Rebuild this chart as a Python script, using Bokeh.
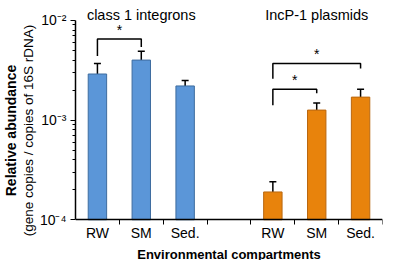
from bokeh.plotting import figure
from bokeh.models import (ColumnDataSource, Whisker, TeeHead, FixedTicker, Label, Title)
from bokeh.embed import file_html
from bokeh.resources import INLINE
from bokeh.core.properties import value

# ---- data ----
groups = ["class 1 integrons", "IncP-1 plasmids"]
compartments = ["RW", "SM", "Sed."]
integron_mean = [2.9e-3, 4.0e-3, 2.2e-3]
integron_upper = [3.7e-3, 4.9e-3, 2.5e-3]
integron_lower = [2.05e-3, 3.1e-3, 1.9e-3]
plasmid_mean = [1.9e-4, 1.26e-3, 1.7e-3]
plasmid_upper = [2.4e-4, 1.48e-3, 2.04e-3]
plasmid_lower = [1.35e-4, 0.98e-3, 1.41e-3]
y_ticks = [1e-4, 1e-3, 1e-2]
y_tick_labels = ["10⁻⁴", "10⁻³", "10⁻²"]
y_minor = [m * 1e-4 for m in range(2, 10)] + [m * 1e-3 for m in range(2, 10)]
Y_MIN, Y_MAX = 1e-4, 1e-2

# slot positions: 3 bars, one empty slot, 3 bars
int_x = [0.5, 1.5, 2.5]
pla_x = [4.5, 5.5, 6.5]

FONT = "Liberation Sans"

p = figure(width=384, height=260, output_backend="svg", toolbar_location=None,
           x_range=(0, 7), y_range=(3.9e-5, 1.585e-2), y_axis_type="log",
           min_border_left=72, min_border_right=2, min_border_top=0, min_border_bottom=0)
p.outline_line_color = None
p.xgrid.visible = False
p.ygrid.visible = False
p.background_fill_color = "white"

src_i = ColumnDataSource(dict(x=int_x, top=integron_mean, up=integron_upper, lo=integron_lower))
src_p = ColumnDataSource(dict(x=pla_x, top=plasmid_mean, up=plasmid_upper, lo=plasmid_lower))

p.vbar(x="x", top="top", bottom=Y_MIN, width=0.42, source=src_i,
       fill_color="#5B96D8", line_color="#3E6C9F", line_width=1)
p.vbar(x="x", top="top", bottom=Y_MIN, width=0.42, source=src_p,
       fill_color="#E8830C", line_color="#B96710", line_width=1)

for src in (src_i, src_p):
    w = Whisker(base="x", upper="up", lower="lo", source=src, line_color="black", line_width=1.5,
                upper_head=TeeHead(size=7, line_color="black", line_width=1.5),
                lower_head=TeeHead(size=7, line_color="black", line_width=1.5))
    p.add_layout(w)

# significance brackets
br_xs = [[0.5, 0.5, 1.5, 1.5], [4.5, 4.5, 6.5, 6.5], [4.5, 4.5, 5.5, 5.5]]
br_ys = [[4.4e-3, 6.5e-3, 6.5e-3, 5.4e-3],
         [2.6e-3, 3.7e-3, 3.7e-3, 3.3e-3],
         [1.41e-3, 2.04e-3, 2.04e-3, 1.86e-3]]
p.multi_line(xs=br_xs, ys=br_ys, line_color="black", line_width=1.5)
star_x = [1.0, 5.5, 5.0]
star_y = [6.6e-3, 3.8e-3, 2.1e-3]
p.text(x=star_x, y=star_y, text=["*", "*", "*"], text_align="center", text_baseline="bottom",
       text_font=value(FONT), text_font_size="14px", text_color="black")

# group titles above the 10^-2 level
for gx, gname in zip([1.5, 5.5], groups):
    p.add_layout(Label(x=gx, y=Y_MAX, y_offset=5, text=gname, text_align="center",
                       text_baseline="alphabetic", text_font=FONT, text_font_size="14.5px",
                       text_color="black"))

# x axis, pinned at the bottom of the value range
xa = p.xaxis[0]
xa.fixed_location = Y_MIN
xa.ticker = FixedTicker(ticks=int_x + pla_x, minor_ticks=[1, 2, 3, 4, 5, 6, 7])
xa.major_label_overrides = {t: c for t, c in zip(int_x + pla_x, compartments * 2)}
xa.major_tick_out = 0
xa.major_tick_in = 0
xa.minor_tick_out = 5
xa.minor_tick_in = 0
xa.axis_line_width = 1.5
xa.axis_line_color = "black"
xa.minor_tick_line_color = "black"
xa.major_label_text_font = FONT
xa.major_label_text_font_size = "14px"
xa.major_label_text_color = "black"
xa.major_label_standoff = 0
xa.axis_label = "Environmental compartments"
xa.axis_label_text_font = FONT
xa.axis_label_text_font_style = "bold"
xa.axis_label_text_font_size = "13px"
xa.axis_label_standoff = 3
xa.axis_label_text_color = "black"

# y axis
ya = p.yaxis[0]
ya.ticker = FixedTicker(ticks=y_ticks, minor_ticks=y_minor)
ya.bounds = (Y_MIN, Y_MAX)
ya.major_label_overrides = {t: s for t, s in zip(y_ticks, y_tick_labels)}
ya.major_tick_out = 5
ya.major_tick_in = 0
ya.minor_tick_out = 3
ya.minor_tick_in = 0
ya.axis_line_width = 1.5
ya.axis_line_color = "black"
ya.major_tick_line_color = "black"
ya.minor_tick_line_color = "black"
ya.major_label_text_font = FONT
ya.major_label_text_font_size = "14px"
ya.major_label_text_color = "black"
ya.major_label_standoff = 4

p.add_layout(Title(text="(gene copies / copies of 16S rDNA)", align="center", offset=10,
                   text_font=FONT, text_font_size="13.5px", text_font_style="normal",
                   text_color="black", standoff=1), "left")
p.add_layout(Title(text="Relative abundance", align="center", offset=10,
                   text_font=FONT, text_font_size="14px", text_font_style="bold",
                   text_color="black", standoff=0), "left")

open("out.html", "w").write(file_html(p, INLINE))
